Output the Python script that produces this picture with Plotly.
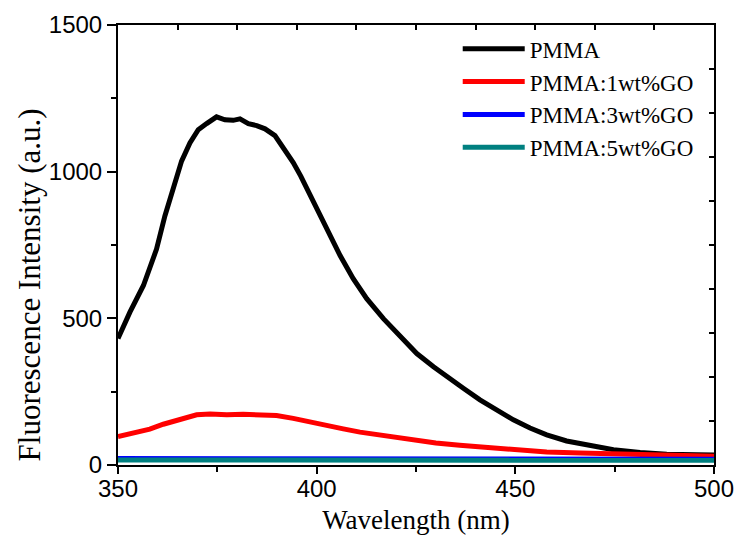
import plotly.graph_objects as go

# ---- data ----
wl_pmma = [350, 353, 356.4, 359.7, 361.8, 363.5, 366, 368.1, 370.2, 372.3, 374.8, 376.9, 379,
           380.7, 382.8, 384.9, 387, 389.5, 391.6, 394.1, 396, 399.2, 402.5, 405.9, 409.2, 412.6,
           416.8, 421, 425.2, 429.4, 432.7, 437, 441.1, 445.3, 449.5, 453.7, 457.9, 462.9, 468.8,
           474.7, 481.4, 488.1, 495.6, 500]
int_pmma = [431, 521, 612, 736, 849, 929, 1036, 1098, 1143, 1164, 1187, 1177, 1175,
            1180, 1164, 1157, 1146, 1123, 1081, 1031, 985, 895, 804, 714, 635, 567,
            499, 437, 380, 335, 301, 261, 222, 188, 154, 126, 103, 82, 65,
            52, 43, 37, 35, 34]

wl_go1 = [350, 354, 358, 361.4, 365.6, 369.8, 373.2, 377.4, 381.5, 385.7, 389.9, 394.1, 398.3,
          402.5, 406.7, 410.9, 415.1, 419.3, 423.1, 430, 436, 441.1, 449.5, 457.9, 466.3, 474.7,
          483.1, 491.5, 500]
int_go1 = [97, 111, 122, 139, 157, 171, 174, 171, 173, 173, 169, 159, 146,
           133, 123, 112, 103, 94, 88, 75, 67, 61, 52, 44, 41, 38,
           36, 33, 30]

wl_go3 = [350, 400, 450, 500]
int_go3 = [22, 21, 20, 20]

wl_go5 = [350, 400, 450, 500]
int_go5 = [17, 16, 16, 16]

names = ["PMMA", "PMMA:1wt%GO", "PMMA:3wt%GO", "PMMA:5wt%GO"]
colors = ["#000000", "#FF0000", "#0000FF", "#008080"]

x_title = "Wavelength (nm)"
y_title = "Fluorescence Intensity (a.u.)"

x_range = [350, 500]
y_range = [0, 1500]

fig = go.Figure()
for wl, iv, nm, c in zip([wl_pmma, wl_go1, wl_go3, wl_go5],
                         [int_pmma, int_go1, int_go3, int_go5], names, colors):
    fig.add_trace(go.Scatter(x=wl, y=iv, name=nm, mode="lines",
                             line=dict(color=c, width=5)))

# empty trace so the top/right frame axes are drawn
fig.add_trace(go.Scatter(x=[], y=[], xaxis="x2", yaxis="y2", showlegend=False,
                         hoverinfo="skip"))

tick_font = dict(family="Liberation Sans, Arial", size=24, color="black")
title_font = dict(family="Liberation Serif, Times New Roman", size=27, color="black")

fig.update_layout(
    width=739, height=539,
    margin=dict(l=118, r=25, t=25, b=74),
    paper_bgcolor="white", plot_bgcolor="white",
    showlegend=True,
    legend=dict(x=0.570, y=0.995, xanchor="left", yanchor="top",
                bgcolor="rgba(0,0,0,0)", borderwidth=0,
                font=dict(family="Liberation Serif, Times New Roman", size=23, color="black"),
                tracegroupgap=0, itemwidth=62),
    xaxis=dict(range=x_range, dtick=50, tick0=350, showgrid=False, zeroline=False,
               automargin=False,
               showline=True, linecolor="black", linewidth=2,
               ticks="outside", ticklen=7, tickwidth=2, tickcolor="black",
               ticklabelstandoff=-6,
               minor=dict(dtick=25, ticks="outside", ticklen=5, tickwidth=2, tickcolor="black"),
               tickfont=tick_font,
               title=dict(text=x_title, font=title_font, standoff=9)),
    yaxis=dict(range=y_range, dtick=500, tick0=0, showgrid=False, zeroline=False,
               automargin=False,
               showline=True, linecolor="black", linewidth=2,
               ticks="outside", ticklen=9, tickwidth=2, tickcolor="black",
               minor=dict(dtick=250, ticks="outside", ticklen=5, tickwidth=2, tickcolor="black"),
               tickfont=tick_font),
    xaxis2=dict(range=x_range, overlaying="x", side="top", anchor="y", dtick=15, tick0=350,
                showgrid=False, zeroline=False, showline=True, linecolor="black", linewidth=2,
                ticks="inside", ticklen=5, tickwidth=2, tickcolor="black",
                showticklabels=False),
    yaxis2=dict(range=y_range, overlaying="y", side="right", anchor="x", dtick=150, tick0=0,
                showgrid=False, zeroline=False, showline=True, linecolor="black", linewidth=2,
                ticks="inside", ticklen=5, tickwidth=2, tickcolor="black",
                showticklabels=False),
    annotations=[dict(text=y_title, textangle=-90, xref="paper", yref="paper",
                      x=-0.148, y=0.41, xanchor="center", yanchor="middle",
                      showarrow=False,
                      font=dict(family="Liberation Serif, Times New Roman", size=31,
                                color="black"))],
)

fig.write_html("out.html")
